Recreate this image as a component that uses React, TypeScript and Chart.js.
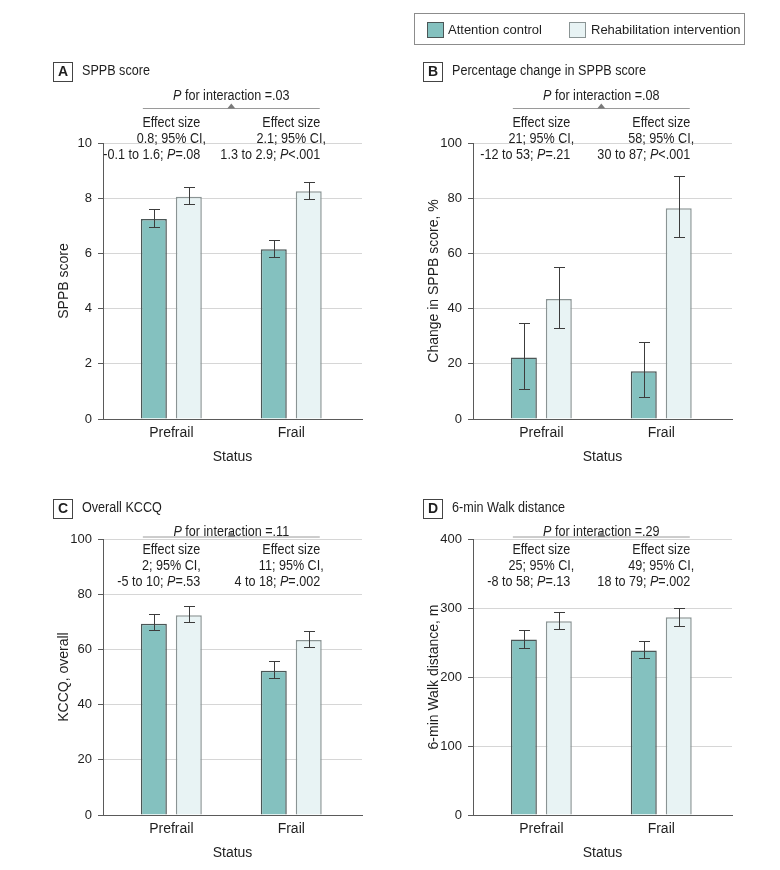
import React, { useEffect, useRef } from 'react';
import { Chart, registerables } from 'chart.js';

Chart.register(...registerables);

const FONT = '"Liberation Sans", Arial, sans-serif';
const FS = 14;
const TICK_FS = 13;
const LEGEND_FS = 13;
const SX = 0.9; // horizontal condensing of annotation text
const TEXT = '#1e1e1e';
const AXIS = '#5a5a5a';
const GRID = '#d6d6d6';
const CONTROL_FILL = '#84c1bf';
const CONTROL_BORDER = '#4b5656';
const REHAB_FILL = '#e8f3f4';
const REHAB_BORDER = '#8a9494';

// ---------- data ----------
const categories = ['Prefrail', 'Frail'];
const seriesNames = ['Attention control', 'Rehabilitation intervention'];

// A: SPPB score
const sppbControl = [7.25, 6.15];
const sppbControlLow = [6.97, 5.88];
const sppbControlHigh = [7.6, 6.5];
const sppbRehab = [8.05, 8.25];
const sppbRehabLow = [7.78, 7.98];
const sppbRehabHigh = [8.4, 8.6];
const sppbTicks = { max: 10, step: 2 };

// B: Percentage change in SPPB score
const pctControl = [22.3, 17.3];
const pctControlLow = [10.9, 7.9];
const pctControlHigh = [34.8, 27.9];
const pctRehab = [43.5, 76.4];
const pctRehabLow = [32.9, 65.9];
const pctRehabHigh = [54.9, 88.0];
const pctTicks = { max: 100, step: 20 };

// C: Overall KCCQ
const kccqControl = [69.3, 52.3];
const kccqControlLow = [66.9, 49.8];
const kccqControlHigh = [73.0, 55.9];
const kccqRehab = [72.4, 63.4];
const kccqRehabLow = [69.9, 61.0];
const kccqRehabHigh = [75.9, 66.8];
const kccqTicks = { max: 100, step: 20 };

// D: 6-min walk distance
const walkControl = [254.5, 238.5];
const walkControlLow = [241.5, 227.0];
const walkControlHigh = [267.6, 251.6];
const walkRehab = [280.7, 286.5];
const walkRehabLow = [269.0, 273.5];
const walkRehabHigh = [293.8, 299.6];
const walkTicks = { max: 400, step: 100 };

// annotation texts
const sppbEffects = [
  ['Effect size', '0.8; 95% CI,', '-0.1 to 1.6; P=.08'],
  ['Effect size', '2.1; 95% CI,', '1.3 to 2.9; P<.001'],
];
const pctEffects = [
  ['Effect size', '21; 95% CI,', '-12 to 53; P=.21'],
  ['Effect size', '58; 95% CI,', '30 to 87; P<.001'],
];
const kccqEffects = [
  ['Effect size', '2; 95% CI,', '-5 to 10; P=.53'],
  ['Effect size', '11; 95% CI,', '4 to 18; P=.002'],
];
const walkEffects = [
  ['Effect size', '25; 95% CI,', '-8 to 58; P=.13'],
  ['Effect size', '49; 95% CI,', '18 to 79; P=.002'],
];

type Panel = {
  left: number;
  top: number;
  row: number;
  letter: string;
  title: string;
  yTitle: string;
  ticks: { max: number; step: number };
  pText: string;
  effects: string[][];
  control: number[];
  controlLow: number[];
  controlHigh: number[];
  rehab: number[];
  rehabLow: number[];
  rehabHigh: number[];
};

const panels: Panel[] = [
  {
    left: 0, top: 0, row: 0, letter: 'A', title: 'SPPB score', yTitle: 'SPPB score',
    ticks: sppbTicks, pText: 'P for interaction =.03', effects: sppbEffects,
    control: sppbControl, controlLow: sppbControlLow, controlHigh: sppbControlHigh,
    rehab: sppbRehab, rehabLow: sppbRehabLow, rehabHigh: sppbRehabHigh,
  },
  {
    left: 370, top: 0, row: 0, letter: 'B', title: 'Percentage change in SPPB score',
    yTitle: 'Change in SPPB score, %',
    ticks: pctTicks, pText: 'P for interaction =.08', effects: pctEffects,
    control: pctControl, controlLow: pctControlLow, controlHigh: pctControlHigh,
    rehab: pctRehab, rehabLow: pctRehabLow, rehabHigh: pctRehabHigh,
  },
  {
    left: 0, top: 396, row: 1, letter: 'C', title: 'Overall KCCQ', yTitle: 'KCCQ, overall',
    ticks: kccqTicks, pText: 'P for interaction =.11', effects: kccqEffects,
    control: kccqControl, controlLow: kccqControlLow, controlHigh: kccqControlHigh,
    rehab: kccqRehab, rehabLow: kccqRehabLow, rehabHigh: kccqRehabHigh,
  },
  {
    left: 370, top: 396, row: 1, letter: 'D', title: '6-min Walk distance',
    yTitle: '6-min Walk distance, m',
    ticks: walkTicks, pText: 'P for interaction =.29', effects: walkEffects,
    control: walkControl, controlLow: walkControlLow, controlHigh: walkControlHigh,
    rehab: walkRehab, rehabLow: walkRehabLow, rehabHigh: walkRehabHigh,
  },
];

const ROW_LAYOUT = [
  { titleY: 71.5, pY: 96.5, bracketY: 108.5, effY: [123, 139, 155] },
  { titleY: 112.5, pY: 136, bracketY: 141, effY: [154, 170, 186] },
];

const CW = 375;
const CH = 470;

function splitItalic(text: string) {
  const segs: { t: string; i: boolean }[] = [];
  let buf = '';
  for (let k = 0; k < text.length; k++) {
    const ch = text[k];
    const nxt = text[k + 1];
    const isItal = ch === 'P' && (nxt === '=' || nxt === '<' || text.slice(k, k + 5) === 'P for');
    if (isItal) {
      if (buf) segs.push({ t: buf, i: false });
      segs.push({ t: 'P', i: true });
      buf = '';
    } else {
      buf += ch;
    }
  }
  if (buf) segs.push({ t: buf, i: false });
  return segs;
}

function fontFor(italic: boolean, size = FS) {
  return `${italic ? 'italic ' : ''}${size}px ${FONT}`;
}

function measureRich(ctx: CanvasRenderingContext2D, text: string) {
  let w = 0;
  for (const s of splitItalic(text)) {
    ctx.font = fontFor(s.i);
    w += ctx.measureText(s.t).width;
  }
  return w * SX;
}

function drawRich(ctx: CanvasRenderingContext2D, text: string, x: number, y: number, align: string) {
  const total = measureRich(ctx, text);
  const x0 = align === 'center' ? x - total / 2 : align === 'right' ? x - total : x;
  ctx.save();
  ctx.translate(x0, y);
  ctx.scale(SX, 1);
  ctx.textAlign = 'left';
  ctx.textBaseline = 'middle';
  ctx.fillStyle = TEXT;
  let sx = 0;
  for (const s of splitItalic(text)) {
    ctx.font = fontFor(s.i);
    ctx.fillText(s.t, sx, 0);
    sx += ctx.measureText(s.t).width;
  }
  ctx.restore();
  return total;
}

function PanelChart({ p }: { p: Panel }) {
  const ref = useRef<HTMLCanvasElement>(null);
  useEffect(() => {
    const canvas = ref.current;
    if (!canvas) return;
    const L = ROW_LAYOUT[p.row];
    const lows = [p.controlLow, p.rehabLow];
    const highs = [p.controlHigh, p.rehabHigh];

    const errBars = {
      id: 'errBars',
      afterDatasetsDraw(chart: any) {
        const ctx = chart.ctx;
        const y = chart.scales.y;
        ctx.save();
        ctx.strokeStyle = '#3c3c3c';
        ctx.lineWidth = 1;
        chart.data.datasets.forEach((_: any, di: number) => {
          const meta = chart.getDatasetMeta(di);
          meta.data.forEach((bar: any, i: number) => {
            const x = Math.round(bar.x) + 0.5;
            const y1 = Math.round(y.getPixelForValue(lows[di][i])) + 0.5;
            const y2 = Math.round(y.getPixelForValue(highs[di][i])) + 0.5;
            ctx.beginPath();
            ctx.moveTo(x, y1);
            ctx.lineTo(x, y2);
            ctx.moveTo(x - 5.5, y1);
            ctx.lineTo(x + 5.5, y1);
            ctx.moveTo(x - 5.5, y2);
            ctx.lineTo(x + 5.5, y2);
            ctx.stroke();
          });
        });
        ctx.restore();
      },
    };

    const annot = {
      id: 'annot',
      afterDraw(chart: any) {
        const ctx = chart.ctx as CanvasRenderingContext2D;
        const xs = chart.scales.x;
        const c0 = xs.getPixelForValue(0);
        const c1 = xs.getPixelForValue(1);
        const mid = (c0 + c1) / 2;
        ctx.save();
        // letter box
        ctx.strokeStyle = '#444';
        ctx.lineWidth = 1;
        ctx.strokeRect(53.5, Math.round(L.titleY - 9.5) + 0.5, 19, 19);
        ctx.fillStyle = TEXT;
        ctx.font = `bold 14px ${FONT}`;
        ctx.textAlign = 'center';
        ctx.textBaseline = 'middle';
        ctx.fillText(p.letter, 63, L.titleY + 1);
        // title
        drawRich(ctx, p.title, 82, L.titleY, 'left');
        // P for interaction
        drawRich(ctx, p.pText, mid, L.pY, 'center');
        // bracket
        ctx.strokeStyle = '#9a9a9a';
        ctx.lineWidth = 1;
        ctx.beginPath();
        ctx.moveTo(c0 - 28.5, L.bracketY);
        ctx.lineTo(c1 + 28.5, L.bracketY);
        ctx.stroke();
        ctx.fillStyle = '#7a7a7a';
        ctx.beginPath();
        ctx.moveTo(mid, L.bracketY - 5);
        ctx.lineTo(mid + 4, L.bracketY);
        ctx.lineTo(mid - 4, L.bracketY);
        ctx.closePath();
        ctx.fill();
        // effect sizes
        [c0, c1].forEach((cx, gi) => {
          const lines = p.effects[gi];
          const w1 = measureRich(ctx, lines[0]);
          drawRich(ctx, lines[0], cx, L.effY[0], 'center');
          drawRich(ctx, lines[1], cx, L.effY[1], 'center');
          drawRich(ctx, lines[2], cx + w1 / 2, L.effY[2], 'right');
        });
        ctx.restore();
      },
    };

    const mk = (vals: number[]) => categories.map((_, i) => ({ x: i, y: vals[i] }));

    const chart = new Chart(canvas, {
      type: 'bar',
      data: {
        datasets: [
          {
            label: seriesNames[0],
            data: mk(p.control) as any,
            backgroundColor: CONTROL_FILL,
            borderColor: CONTROL_BORDER,
            borderWidth: 1.5,
          },
          {
            label: seriesNames[1],
            data: mk(p.rehab) as any,
            backgroundColor: REHAB_FILL,
            borderColor: REHAB_BORDER,
            borderWidth: 1.5,
          },
        ],
      },
      options: {
        animation: false,
        responsive: false,
        maintainAspectRatio: false,
        devicePixelRatio: 1,
        layout: { padding: { top: 143, right: 13, left: 0, bottom: 0 } },
        datasets: { bar: { categoryPercentage: 0.583, barPercentage: 0.743 } } as any,
        plugins: {
          legend: { display: false },
          tooltip: { enabled: false },
          title: { display: false },
        },
        scales: {
          x: {
            type: 'linear',
            min: -0.57,
            max: 1.59,
            offset: false,
            grid: { display: false, drawTicks: false },
            border: { display: true, color: AXIS, width: 1 },
            ticks: {
              stepSize: 1,
              includeBounds: false,
              autoSkip: false,
              maxRotation: 0,
              padding: 6,
              color: TEXT,
              font: { family: FONT, size: FS },
              callback: (v: any) => categories[v] ?? '',
            } as any,
            title: {
              display: true,
              text: 'Status',
              color: TEXT,
              font: { family: FONT, size: FS },
              padding: { top: 0, bottom: 4.6 },
            },
            afterFit: (s: any) => {
              s.height = 51;
            },
          },
          y: {
            min: 0,
            max: p.ticks.max,
            grid: {
              color: (c: any) => (c.tick && c.tick.value === 0 ? 'rgba(0,0,0,0)' : GRID),
              tickColor: AXIS,
              tickLength: 5,
              lineWidth: 1,
            },
            border: { color: AXIS, width: 1 },
            ticks: {
              stepSize: p.ticks.step,
              padding: 6,
              color: TEXT,
              font: { family: FONT, size: TICK_FS },
            },
            title: {
              display: true,
              text: p.yTitle,
              color: TEXT,
              font: { family: FONT, size: FS },
              padding: { top: 55.6, bottom: 0 },
            },
            afterFit: (s: any) => {
              s.width = 103;
            },
          },
        },
      },
      plugins: [errBars, annot],
    });
    return () => chart.destroy();
  }, [p]);

  return (
    <canvas
      ref={ref}
      width={CW}
      height={CH}
      style={{ position: 'absolute', left: p.left, top: p.top, width: CW, height: CH, display: 'block' }}
    />
  );
}

function Legend() {
  const sw = (left: number, fill: string, border: string) => (
    <span
      style={{
        position: 'absolute',
        left,
        top: 8,
        width: 17,
        height: 16,
        boxSizing: 'border-box',
        background: fill,
        border: `1px solid ${border}`,
      }}
    />
  );
  const label = (left: number, text: string) => (
    <span style={{ position: 'absolute', left, top: 0, lineHeight: '32px', whiteSpace: 'nowrap' }}>{text}</span>
  );
  return (
    <div
      style={{
        position: 'absolute',
        left: 414,
        top: 13,
        width: 331,
        height: 32,
        boxSizing: 'border-box',
        border: '1px solid #8c8c8c',
        fontFamily: FONT,
        fontSize: LEGEND_FS,
        color: TEXT,
      }}
    >
      {sw(12, CONTROL_FILL, CONTROL_BORDER)}
      {label(33, seriesNames[0])}
      {sw(154, REHAB_FILL, REHAB_BORDER)}
      {label(176, seriesNames[1])}
    </div>
  );
}

export default function App() {
  return (
    <div style={{ position: 'absolute', left: 0, top: 0, width: 780, height: 870, background: '#fff' }}>
      {panels.map((p) => (
        <PanelChart key={p.letter} p={p} />
      ))}
      <Legend />
    </div>
  );
}
